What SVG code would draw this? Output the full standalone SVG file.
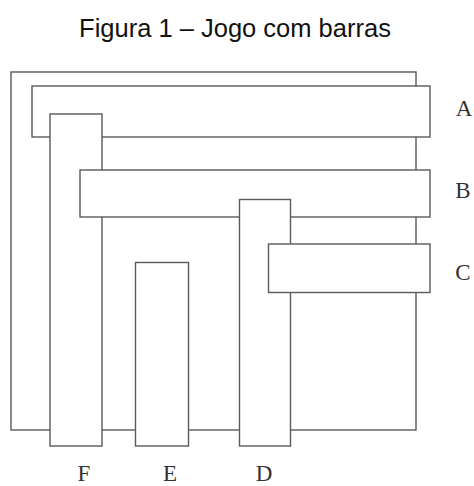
<svg xmlns="http://www.w3.org/2000/svg" width="474" height="486" viewBox="0 0 474 486">
  <style>
    .bar { fill: #ffffff; stroke: #5a5a5a; stroke-width: 1.4; }
    .title { font-family: "Liberation Sans", Arial, sans-serif; font-size: 25.5px; fill: #111; }
    .lbl { font-family: "Liberation Serif", "Times New Roman", serif; font-size: 23px; fill: #333; text-anchor: middle; }
  </style>
  <rect width="474" height="486" fill="#ffffff"/>
  <text class="title" x="235" y="37" text-anchor="middle">Figura 1 – Jogo com barras</text>

  <!-- frame and bars, drawn from bottom layer to top layer -->
  <g id="frame"><rect class="bar" x="11" y="72" width="405" height="358"/></g>
  <g id="bar-A"><rect class="bar" x="32" y="86" width="398" height="51"/></g>
  <g id="bar-F"><rect class="bar" x="50" y="114" width="52" height="332"/></g>
  <g id="bar-B"><rect class="bar" x="80" y="170" width="350" height="47"/></g>
  <g id="bar-D"><rect class="bar" x="239.5" y="199.5" width="51" height="246.5"/></g>
  <g id="bar-C"><rect class="bar" x="268.5" y="244" width="161.5" height="48.5"/></g>
  <g id="bar-E"><rect class="bar" x="135.5" y="262.5" width="53" height="183.5"/></g>

  <g id="labels">
    <text class="lbl" x="464" y="116">A</text>
    <text class="lbl" x="463" y="198">B</text>
    <text class="lbl" x="463" y="280">C</text>
    <text class="lbl" x="84" y="481">F</text>
    <text class="lbl" x="170" y="481">E</text>
    <text class="lbl" x="264" y="481">D</text>
  </g>
</svg>
